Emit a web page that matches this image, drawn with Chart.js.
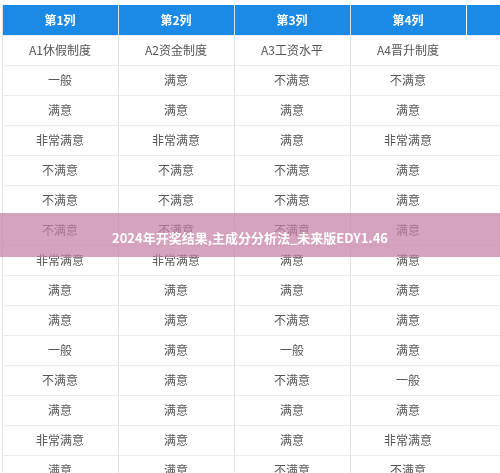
<!DOCTYPE html>
<html><head><meta charset="utf-8">
<script src="https://cdn.jsdelivr.net/npm/chart.js@4"></script>
<style>html,body{margin:0;padding:0;background:#fff}#w{width:500px;height:473px}</style>
</head><body><div id="w"><canvas id="c"></canvas></div>
<script>
const headers = ["第1列","第2列","第3列","第4列",""];
const col1 = ["A1休假制度","一般","满意","非常满意","不满意","不满意","不满意","非常满意","满意","满意","一般","不满意","满意","非常满意","满意"];
const col2 = ["A2资金制度","满意","满意","非常满意","不满意","不满意","不满意","非常满意","满意","满意","满意","满意","满意","满意","满意"];
const col3 = ["A3工资水平","不满意","满意","满意","不满意","不满意","不满意","满意","满意","不满意","一般","不满意","满意","满意","不满意"];
const col4 = ["A4晋升制度","不满意","满意","非常满意","满意","满意","满意","满意","满意","满意","满意","一般","满意","非常满意","不满意"];
const col5 = ["B1上司","","","","","","","","","","","","","",""];
const title = "2024年开奖结果,主成分分析法_未来版EDY1.46";
const cols = [col1,col2,col3,col4,col5];
const FONT = "'Noto Sans CJK SC','Noto Sans',sans-serif";

const points = [];
cols.forEach((c,ci)=>c.forEach((v,ri)=>points.push({x:ci+0.5,y:ri+1.5,t:v})));
headers.forEach((h,ci)=>points.push({x:ci+0.5,y:0.5,t:h,head:true}));

const tablePlugin = {
  id:'table',
  beforeDatasetsDraw(chart){
    const {ctx,scales:{x,y}} = chart;
    ctx.save();
    for(let ci=0;ci<headers.length;ci++){
      const x0=x.getPixelForValue(ci), x1=x.getPixelForValue(ci+1);
      ctx.fillStyle='#1b8ae6';
      ctx.fillRect(x0+1,y.getPixelForValue(0),x1-x0-1,y.getPixelForValue(1)-y.getPixelForValue(0));
    }
    ctx.textAlign='center';ctx.textBaseline='middle';
    points.forEach(p=>{
      const px=x.getPixelForValue(p.x), py=y.getPixelForValue(p.y);
      if(p.head){ctx.fillStyle='#fff';ctx.font='bold 12px '+FONT;}
      else{ctx.fillStyle='#555';ctx.font='12px '+FONT;}
      ctx.fillText(p.t,px,py);
    });
    ctx.restore();
  },
  afterDraw(chart){
    const {ctx} = chart;
    ctx.save();
    ctx.fillStyle='rgba(198,128,165,0.72)';
    ctx.fillRect(0,213,500,44);
    ctx.fillStyle='#fff';ctx.font='bold 13px '+FONT;
    ctx.textAlign='center';ctx.textBaseline='middle';
    ctx.fillText(title,250,238);
    ctx.restore();
  }
};

new Chart(document.getElementById('c'),{
  type:'scatter',
  data:{datasets:[{data:points,pointRadius:0,pointHoverRadius:0}]},
  options:{
    responsive:true,maintainAspectRatio:false,animation:false,
    layout:{padding:{top:5,left:2,right:0,bottom:0}},
    plugins:{legend:{display:false},tooltip:{enabled:false}},
    scales:{
      x:{type:'linear',min:0,max:4.293,display:true,ticks:{display:false,stepSize:1},
         grid:{color:'#e2e2e2',drawTicks:false},border:{display:false}},
      y:{type:'linear',reverse:true,min:0,max:15.6,ticks:{display:false,stepSize:1},
         grid:{color:'#ececec',drawTicks:false},border:{display:false}}
    }
  },
  plugins:[tablePlugin]
});
</script></body></html>
